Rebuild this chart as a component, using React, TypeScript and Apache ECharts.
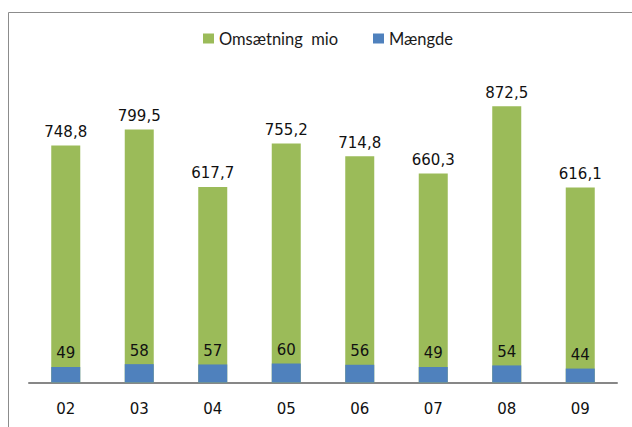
import React, { useEffect, useRef } from "react";
import * as echarts from "echarts";

const categories = ["02", "03", "04", "05", "06", "07", "08", "09"];
const omsaetning = [748.8, 799.5, 617.7, 755.2, 714.8, 660.3, 872.5, 616.1];
const maengde = [49, 58, 57, 60, 56, 49, 54, 44];
const seriesNames = ["Omsætning  mio", "Mængde"];

export default function App() {
  const ref = useRef<HTMLDivElement>(null);
  useEffect(() => {
    if (!ref.current) return;
    const chart = echarts.init(ref.current, null, { renderer: "svg" });
    const numFont = "DejaVu Sans, Verdana, sans-serif";
    const legendBase = {
      top: 25,
      itemWidth: 11,
      itemHeight: 10,
      itemGap: 22,
      icon: "rect",
      textStyle: { fontFamily: "Lato, Noto Sans, sans-serif", fontSize: 16.5, color: "#1a1a1a" },
    };
    chart.setOption({
      animation: false,
      backgroundColor: "#ffffff",
      graphic: [
        {
          type: "rect",
          shape: { x: 8.5, y: 12.5, width: 800, height: 600 },
          style: { fill: "none", stroke: "#8c8c8c", lineWidth: 1 },
          silent: true,
        },
      ],
      legend: [
        { ...legendBase, left: 198, data: [seriesNames[0]] },
        { ...legendBase, left: 368, data: [seriesNames[1]] },
      ],
      grid: { left: 29, right: 15, top: 66, bottom: 44.5 },
      xAxis: {
        type: "category",
        data: categories,
        axisLine: { lineStyle: { color: "#878787", width: 2 } },
        axisTick: { show: false },
        axisLabel: { margin: 19, fontSize: 15, fontFamily: numFont, color: "#111" },
      },
      yAxis: {
        type: "value",
        min: 0,
        max: 1000,
        show: false,
        splitLine: { show: false },
      },
      series: [
        {
          name: seriesNames[0],
          type: "bar",
          data: omsaetning,
          barWidth: 29,
          barGap: "-100%",
          itemStyle: { color: "#9BBB59" },
          label: {
            show: true,
            position: "top",
            distance: 6,
            fontSize: 15,
            fontFamily: numFont,
            color: "#111",
            formatter: (p: any) => p.value.toFixed(1).replace(".", ","),
          },
        },
        {
          name: seriesNames[1],
          type: "bar",
          data: maengde,
          barWidth: 29,
          barGap: "-100%",
          itemStyle: { color: "#4F81BD" },
          label: {
            show: true,
            position: "top",
            distance: 6,
            fontSize: 15,
            fontFamily: numFont,
            color: "#111",
            formatter: (p: any) => String(p.value),
          },
        },
      ],
    });
    return () => chart.dispose();
  }, []);
  return (
    <div
      ref={ref}
      style={{ position: "fixed", left: 0, top: 0, width: 632, height: 427 }}
    />
  );
}
